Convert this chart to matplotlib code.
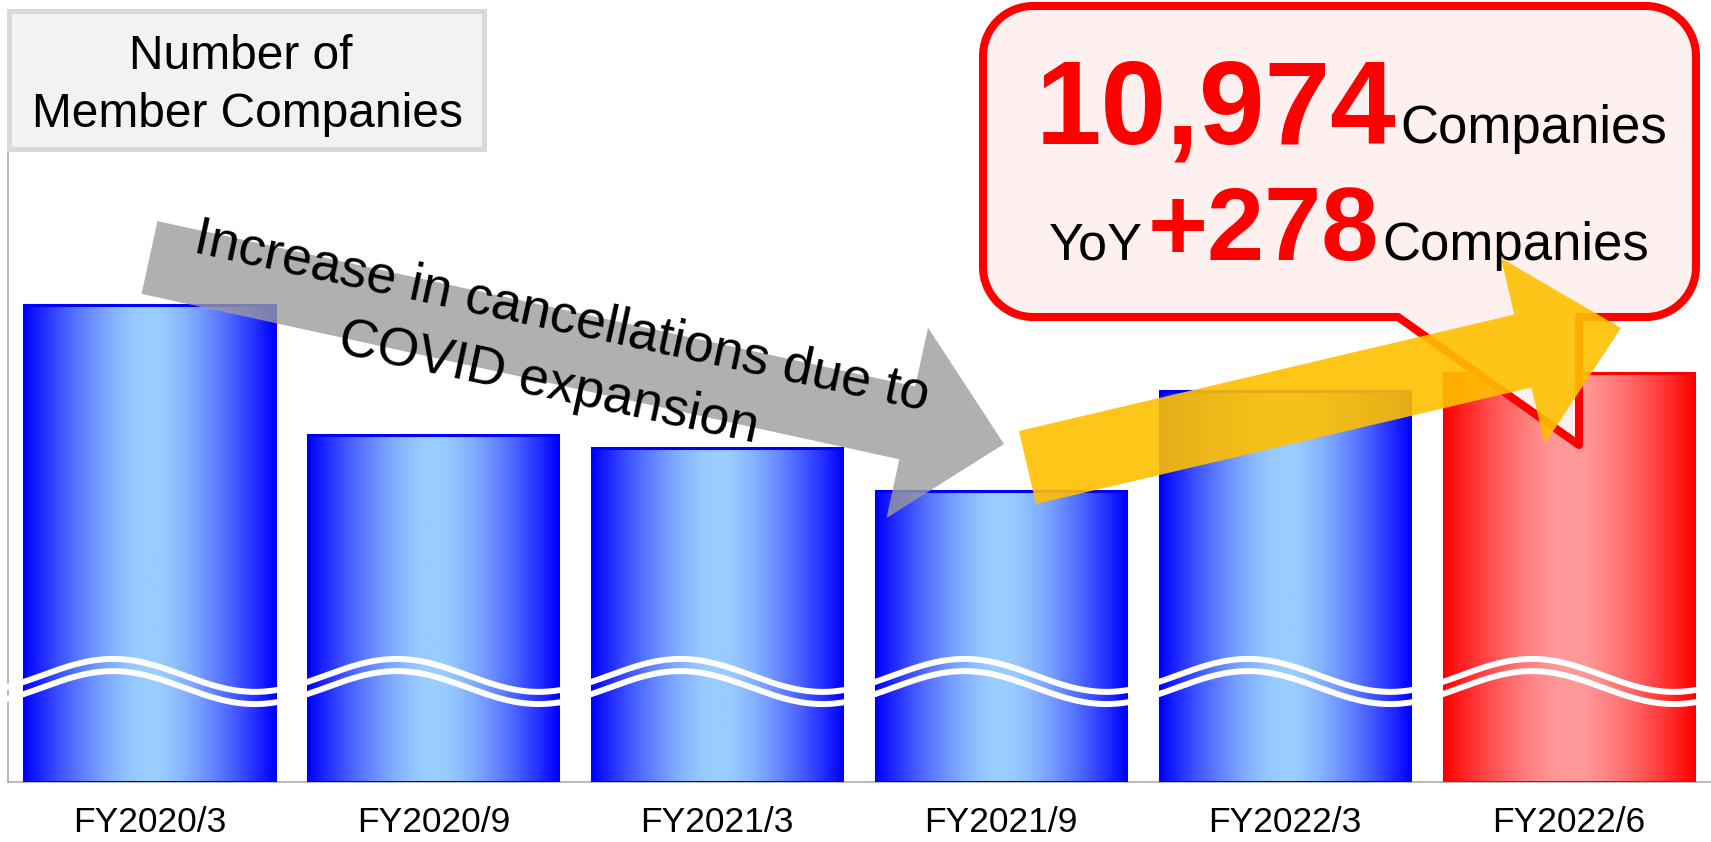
import numpy as np
import matplotlib
matplotlib.use('Agg')
import matplotlib.pyplot as plt
from matplotlib.patches import Rectangle, Polygon

plt.rcParams['font.family'] = ['Liberation Sans', 'DejaVu Sans']

# ---------------- data ----------------
categories = ['FY2020/3', 'FY2020/9', 'FY2021/3', 'FY2021/9', 'FY2022/3', 'FY2022/6']
members = [11153, 10811, 10776, 10664, 10927, 10974]
highlight = [False, False, False, False, False, True]
title_lines = ['Number of', 'Member Companies']
headline_value = '10,974'
yoy_label = 'YoY'
yoy_value = '+278'
unit = 'Companies'
down_text = ['Increase in cancellations due to', 'COVID expansion']

# ---------------- figure ----------------
W, H = 1711, 842
fig = plt.figure(figsize=(W / 100, H / 100), dpi=100)
fig.patch.set_facecolor('white')

ax_bottom_px, ax_top_px, ax_left_px = 782, 150, 8
ax = fig.add_axes([ax_left_px / W, (H - ax_bottom_px) / H,
                   (W - ax_left_px) / W, (ax_bottom_px - ax_top_px) / H])
ax.set_zorder(1)

ymin, ymax = 9900, 11560
x = np.arange(len(categories))
bw = 0.881

blue_edge = np.array([0, 0, 255]) / 255
blue_mid = np.array([153, 204, 255]) / 255
red_edge = np.array([255, 0, 0]) / 255
red_mid = np.array([255, 153, 153]) / 255


def gradient(edge, mid, n=400):
    t = np.linspace(0, 1, n)
    d = np.abs(t - 0.5) / 0.5
    f = 1 - np.clip((d - 0.07) / 0.93, 0, 1) ** 1.4
    out = edge[None, :] + (mid - edge)[None, :] * f[:, None]
    return out[None, :, :]


edge_cols = ['#ff0000' if h else '#0000ff' for h in highlight]
bars = ax.bar(x, np.array(members) - ymin, bottom=ymin, width=bw,
              facecolor='none', edgecolor=edge_cols, linewidth=2.2, zorder=3)
for xi, val, h in zip(x, members, highlight):
    g = gradient(red_edge, red_mid) if h else gradient(blue_edge, blue_mid)
    ax.imshow(g, extent=(xi - bw / 2, xi + bw / 2, ymin, val), aspect='auto',
              zorder=2, interpolation='bilinear')

# axis break waves
xs = np.linspace(-0.56, 5.56, 1200)
phase = np.cos(2 * np.pi * (xs + 0.1286))
ax.plot(xs, 10180 + 43.3 * phase, color='white', lw=4.3, zorder=4,
        clip_on=False, solid_capstyle='butt')
ax.plot(xs, 10148 + 43.3 * phase, color='white', lw=4.3, zorder=4,
        clip_on=False, solid_capstyle='butt')

ax.set_xlim(-0.4986, 5.502)
ax.set_ylim(ymin, ymax)
for s in ['top', 'right']:
    ax.spines[s].set_visible(False)
for s in ['left', 'bottom']:
    ax.spines[s].set_color('#a6a6a6')
    ax.spines[s].set_linewidth(1.1)
ax.set_yticks([])
ax.set_xticks(x)
ax.set_xticklabels(categories, fontsize=25.5)
ax.tick_params(axis='x', length=0, pad=17)

# ---------------- overlay (pixel coordinates) ----------------
ov = fig.add_axes([0, 0, 1, 1])
ov.set_zorder(5)
ov.set_xlim(0, W)
ov.set_ylim(H, 0)
ov.axis('off')
ov.patch.set_visible(False)

# title box
ov.add_patch(Rectangle((9.5, 10.5), 475, 138, facecolor='#f2f2f2',
                       edgecolor='#d9d9d9', linewidth=3.6, zorder=1))
ov.text(241, 69, title_lines[0], ha='center', va='baseline', fontsize=34.5, zorder=2)
ov.text(247.5, 127, title_lines[1], ha='center', va='baseline', fontsize=34.5, zorder=2)


def arrow_poly(S, T, body_hw, head_hw, head_len):
    S = np.array(S, float)
    T = np.array(T, float)
    u = (T - S) / np.linalg.norm(T - S)
    n = np.array([u[1], -u[0]])
    B = T - head_len * u
    return [S + n * body_hw, B + n * body_hw, B + n * head_hw, T,
            B - n * head_hw, B - n * body_hw, S - n * body_hw]


# gray arrow
ov.add_patch(Polygon(arrow_poly((149.5, 257.5), (1004, 444), 37.25, 97.4, 99),
                     closed=True, facecolor='#9c9c9c', alpha=0.8,
                     edgecolor='none', zorder=3))
ov.text(562, 317, down_text[0], ha='center', va='center', rotation=-12.2,
        rotation_mode='anchor', fontsize=38.5, zorder=4)
ov.text(549, 384, down_text[1], ha='center', va='center', rotation=-12.2,
        rotation_mode='anchor', fontsize=38.5, zorder=4)


# callout
def callout_pts(l, r, t, b, rad, tail_l, tail_r, tip):
    pts = []

    def arc(cx, cy, a0, a1):
        for a in np.linspace(np.radians(a0), np.radians(a1), 20):
            pts.append((cx + rad * np.cos(a), cy + rad * np.sin(a)))

    arc(l + rad, t + rad, 180, 270)
    arc(r - rad, t + rad, 270, 360)
    arc(r - rad, b - rad, 0, 90)
    pts.append((tail_r, b))
    pts.append(tip)
    pts.append((tail_l, b))
    arc(l + rad, b - rad, 90, 180)
    return pts


ov.add_patch(Polygon(callout_pts(983, 1696, 6, 317, 50, 1398, 1579, (1579, 445)),
                     closed=True, facecolor='#fff0f0', edgecolor='#ff0000',
                     linewidth=5.8, joinstyle='round', zorder=5))
ov.text(1396, 143, headline_value, ha='right', va='baseline', fontsize=85,
        fontweight='bold', color='#ff0000', zorder=6)
ov.text(1400, 143, unit, ha='left', va='baseline', fontsize=38, zorder=6)
ov.text(1379, 260, yoy_value, ha='right', va='baseline', fontsize=74,
        fontweight='bold', color='#ff0000', zorder=6)
ov.text(1143, 260, yoy_label, ha='right', va='baseline', fontsize=37.5, zorder=6)
ov.text(1382, 260, unit, ha='left', va='baseline', fontsize=38, zorder=6)

# yellow arrow
ov.add_patch(Polygon(arrow_poly((1027.5, 467.5), (1621, 328), 37.5, 95.4, 100.8),
                     closed=True, facecolor='#ffc000', alpha=0.9,
                     edgecolor='none', zorder=7))

fig.savefig('out.png', dpi=100)
